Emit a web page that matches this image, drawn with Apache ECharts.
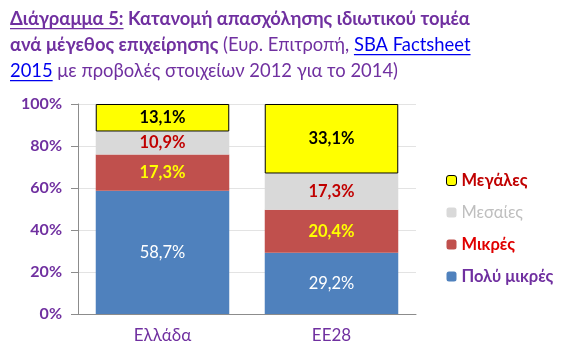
<!DOCTYPE html>
<html><head><meta charset="utf-8">
<script src="https://cdn.jsdelivr.net/npm/echarts@6/dist/echarts.min.js"></script>
<style>html,body{margin:0;padding:0;background:#fff}#c{width:584px;height:357px}</style>
</head><body><div id="c"></div>
<script>
const categories = ['Ελλάδα', 'ΕΕ28'];
const seriesNames = ['Πολύ μικρές', 'Μικρές', 'Μεσαίες', 'Μεγάλες'];
const verySmall = [58.7, 29.2];
const small = [17.3, 20.4];
const medium = [10.9, 17.3];
const large = [13.1, 33.1];
const yTicks = [0, 20, 40, 60, 80, 100];

const FONT = 'Lato';
const PURPLE = '#7030A0';
const TITLE_SIZE = 18.4;

function tw(text, weight) {
  const c = document.createElement('canvas').getContext('2d');
  c.font = weight + ' ' + TITLE_SIZE + 'px ' + FONT;
  return c.measureText(text).width;
}

const t1u = 'Διάγραμμα 5:';
const t1b = ' Κατανομή απασχόλησης ιδιωτικού τομέα';
const t2b = 'ανά μέγεθος επιχείρησης';
const t2n = ' (Ευρ. Επιτροπή, ';
const t2l = 'SBA Factsheet';
const t3l = '2015';
const t3n = ' με προβολές στοιχείων 2012 για το 2014)';

const fmt = v => v.toFixed(1).replace('.', ',') + '%';
const colors = ['#4F81BD', '#C0504D', '#D9D9D9', '#FFFF00'];
const labelColors = ['#FFFFFF', '#FFFF00', '#C00000', '#000000'];
const dataSets = [verySmall, small, medium, large];

const chart = echarts.init(document.getElementById('c'));

function build() {
  const TX = 10, TY = 6, LH = 26;
  const ul = (x, y, w, col) => ({type: 'rect', shape: {x: x, y: y, width: w, height: 1.3}, style: {fill: col}, silent: true});
  const x2 = TX + tw(t2b, 'bold') + tw(t2n, 'normal');
  const option = {
    backgroundColor: '#fff',
    animation: false,
    title: {
      left: TX - 5, top: TY - 5,
      text: '{u|' + t1u + '}{b|' + t1b + '}\n{b|' + t2b + '}{n|' + t2n + '}{l|' + t2l + '}\n{l|' + t3l + '}{n|' + t3n + '}',
      textStyle: {
        fontFamily: FONT, fontSize: TITLE_SIZE, lineHeight: LH,
        rich: {
          u: {fontFamily: FONT, fontSize: TITLE_SIZE, fontWeight: 'bold', color: PURPLE, lineHeight: LH},
          b: {fontFamily: FONT, fontSize: TITLE_SIZE, fontWeight: 'bold', color: PURPLE, lineHeight: LH},
          n: {fontFamily: FONT, fontSize: TITLE_SIZE, fontWeight: 'normal', color: PURPLE, lineHeight: LH},
          l: {fontFamily: FONT, fontSize: TITLE_SIZE, fontWeight: 'normal', color: '#0000EE', lineHeight: LH}
        }
      }
    },
    graphic: [
      ul(TX, TY + 22, tw(t1u, 'bold'), PURPLE),
      ul(x2, TY + 22 + LH, tw(t2l, 'normal'), '#0000EE'),
      ul(TX, TY + 22 + 2 * LH, tw(t3l, 'normal'), '#0000EE')
    ],
    grid: {left: 78, right: 168, top: 104, bottom: 43, containLabel: false},
    legend: {
      orient: 'vertical', left: 441, top: 167, itemWidth: 10, itemHeight: 10, itemGap: 15,
      textStyle: {fontFamily: FONT, fontSize: 16.5, fontWeight: 'bold'},
      data: [
        {name: 'Μεγάλες', textStyle: {color: '#C00000'}, itemStyle: {borderWidth: 1, borderColor: '#000'}},
        {name: 'Μεσαίες', textStyle: {color: '#BFBFBF', fontWeight: 'normal'}},
        {name: 'Μικρές', textStyle: {color: '#E00000'}},
        {name: 'Πολύ μικρές', textStyle: {color: PURPLE}}
      ]
    },
    xAxis: {
      type: 'category', data: categories,
      axisLine: {lineStyle: {color: '#8C8C8C'}},
      axisTick: {length: 6, lineStyle: {color: '#8C8C8C'}},
      axisLabel: {color: PURPLE, fontFamily: FONT, fontSize: 17, margin: 13}
    },
    yAxis: {
      type: 'value', min: 0, max: 100, interval: 20,
      axisLine: {show: true, lineStyle: {color: '#8C8C8C'}},
      axisTick: {show: true, length: 7, lineStyle: {color: '#8C8C8C'}},
      splitLine: {lineStyle: {color: '#E3E3E3'}},
      axisLabel: {color: PURPLE, fontFamily: FONT, fontSize: 16, fontWeight: 'bold', margin: 16,
        formatter: v => yTicks.includes(v) ? v + '%' : ''}
    },
    series: seriesNames.map((n, i) => ({
      name: n, type: 'bar', stack: 'total', barCategoryGap: '21%',
      data: dataSets[i],
      itemStyle: {color: colors[i], borderColor: i === 3 ? '#000' : colors[i], borderWidth: i === 3 ? 1 : 0},
      label: {show: true, position: 'inside', formatter: p => fmt(p.value),
        color: labelColors[i], fontFamily: FONT, fontSize: 16.5, fontWeight: i === 0 ? 'normal' : 'bold'}
    }))
  };
  chart.setOption(option);
}
build();
if (document.fonts && document.fonts.load) {
  Promise.all([document.fonts.load('bold 18px Lato'), document.fonts.load('18px Lato')]).then(build);
}
</script></body></html>
